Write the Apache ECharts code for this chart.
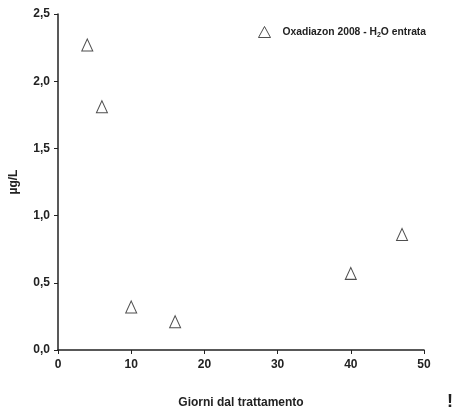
<!DOCTYPE html>
<html>
<head>
<meta charset="utf-8">
<script src="https://cdn.jsdelivr.net/npm/echarts@6/dist/echarts.min.js"></script>
<style>html,body{margin:0;padding:0;background:#fff}#c{width:458px;height:414px}</style>
</head>
<body>
<div id="c"></div>
<script>
const days = [4, 6, 10, 16, 40, 47];
const values = [2.27, 1.81, 0.32, 0.21, 0.57, 0.86];
const xTicks = [0, 10, 20, 30, 40, 50];
const yTicks = [0.0, 0.5, 1.0, 1.5, 2.0, 2.5];
const seriesName = 'Oxadiazon 2008 - H2O entrata';

const FONT = "'Liberation Sans Narrow', 'Liberation Sans', Arial, sans-serif";
const chart = echarts.init(document.getElementById('c'), null, {renderer: 'canvas'});
chart.setOption({
  animation: false,
  backgroundColor: '#fff',
  grid: {left: 55, right: 34, top: 14, bottom: 64, containLabel: false},
  legend: {
    top: 21, left: 253,
    itemWidth: 12, itemHeight: 11, itemGap: 4,
    data: [{name: seriesName, icon: 'triangle', itemStyle: {color: '#fff', borderColor: '#222', borderWidth: 1}}],
    formatter: () => '{a|Oxadiazon 2008 - H}{s|2}{a|O entrata}',
    textStyle: {
      padding: [0, 0, 0, 7],
      rich: {
        a: {fontFamily: FONT, fontWeight: 'bold', fontSize: 10.3, color: '#222'},
        s: {fontFamily: FONT, fontWeight: 'bold', fontSize: 7, color: '#222', verticalAlign: 'bottom', padding: [6, 0, 0, 0]}
      }
    }
  },
  xAxis: {
    type: 'value', min: 0, max: 50, interval: 10,
    name: 'Giorni dal trattamento', nameLocation: 'middle', nameGap: 47,
    nameTextStyle: {fontFamily: FONT, fontWeight: 'bold', fontSize: 12, color: '#222'},
    axisLine: {lineStyle: {color: '#222', width: 1.5}},
    axisTick: {length: 4, lineStyle: {color: '#222'}},
    axisLabel: {fontFamily: FONT, fontWeight: 'bold', fontSize: 12, color: '#222', margin: 9,
      customValues: xTicks},
    splitLine: {show: false}
  },
  yAxis: {
    type: 'value', min: 0, max: 2.5, interval: 0.5,
    name: 'µg/L', nameLocation: 'middle', nameGap: 38,
    nameTextStyle: {fontFamily: FONT, fontWeight: 'bold', fontSize: 12, color: '#222'},
    axisLine: {show: true, lineStyle: {color: '#222', width: 1.5}},
    axisTick: {show: true, length: 4, lineStyle: {color: '#222'}},
    axisLabel: {fontFamily: FONT, fontWeight: 'bold', fontSize: 12, color: '#222', margin: 8,
      customValues: yTicks,
      formatter: v => v.toFixed(1).replace('.', ',')},
    splitLine: {show: false}
  },
  series: [{
    name: seriesName,
    type: 'scatter',
    symbol: 'triangle',
    symbolSize: [11, 12],
    itemStyle: {color: '#fff', borderColor: '#222', borderWidth: 1},
    data: days.map((d, i) => [d, values[i]])
  }],
  graphic: [{
    type: 'text', left: 447, top: 393,
    style: {text: '!', font: "bold 18px " + FONT, fill: '#222'}
  }]
});
</script>
</body>
</html>
